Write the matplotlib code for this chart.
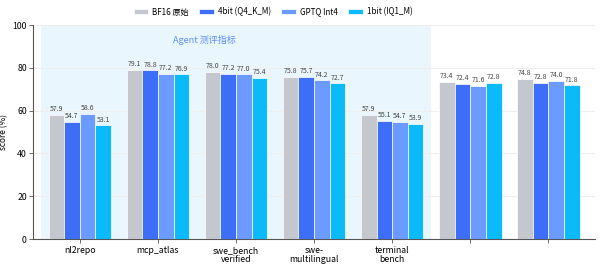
import numpy as np
import matplotlib
matplotlib.use("Agg")
import matplotlib.pyplot as plt

plt.rcParams['font.family'] = ['Noto Sans CJK SC', 'DejaVu Sans']

# benchmarks (labels of the last two groups are hidden in the source image)
benchmarks = ["nl2repo", "mcp_atlas", "swe_bench\nverified", "swe-\nmultilingual",
              "terminal\nbench", "", ""]
series_names = ["BF16 原始", "4bit (Q4_K_M)", "GPTQ Int4", "1bit (IQ1_M)"]
bf16 = [57.9, 79.1, 78.0, 75.8, 57.9, 73.4, 74.8]
q4 = [54.7, 78.8, 77.2, 75.7, 55.1, 72.4, 72.8]
gptq = [58.6, 77.2, 77.0, 74.2, 54.7, 71.6, 74.0]
iq1 = [53.1, 76.9, 75.4, 72.7, 53.9, 72.8, 71.8]
colors = ["#c4c7cd", "#3d6ef7", "#6b9bff", "#0bbbf9"]

fig = plt.figure(figsize=(6, 2.66), dpi=100)
ax = fig.add_axes([0.055, 0.1015, 0.937, 0.8045])

x = np.arange(len(benchmarks))
w = 0.2
ax.axvspan(-0.5, 4.5, ymin=0, ymax=1, color="#eaf6fd", zorder=0, lw=0)
ax.text(1.6, 93, "Agent 测评指标", ha="center", va="center", fontsize=6.5, color="#5b8ff5")

for i, (vals, name, c) in enumerate(zip([bf16, q4, gptq, iq1], series_names, colors)):
    pos = x + (i - 1.5) * w
    bars = ax.bar(pos, vals, w, color=c, edgecolor="white", linewidth=0.5, label=name, zorder=3)
    for b, v in zip(bars, vals):
        ax.text(b.get_x() + b.get_width() / 2, v + 0.8, f"{v:.1f}", ha="center", va="bottom",
                fontsize=5, color="#444444", zorder=4)

ax.set_xlim(-0.6, 6.6)
ax.set_ylim(0, 100)
ax.set_yticks([0, 20, 40, 60, 80, 100])
ax.set_xticks(x)
ax.set_xticklabels(benchmarks, fontsize=6.3, linespacing=0.95)
ax.tick_params(axis="y", labelsize=6.3, length=3, width=0.6, color="#555555", pad=1.5)
ax.tick_params(axis="x", length=3, width=0.6, color="#555555", pad=2)
ax.set_ylabel("score (%)", fontsize=6, labelpad=3)
ax.grid(axis="y", color="#eeeeee", linewidth=0.8, zorder=1)
ax.set_axisbelow(True)
for s in ["top", "right"]:
    ax.spines[s].set_visible(False)
for s in ["left", "bottom"]:
    ax.spines[s].set_color("#555555")
    ax.spines[s].set_linewidth(0.8)

ax.legend(loc="center", bbox_to_anchor=(0.427, 1.061), ncol=4, frameon=False, fontsize=5.8,
          handlelength=1.8, handleheight=0.6, columnspacing=1.3, handletextpad=0.5)

fig.savefig("out.png", dpi=100)
